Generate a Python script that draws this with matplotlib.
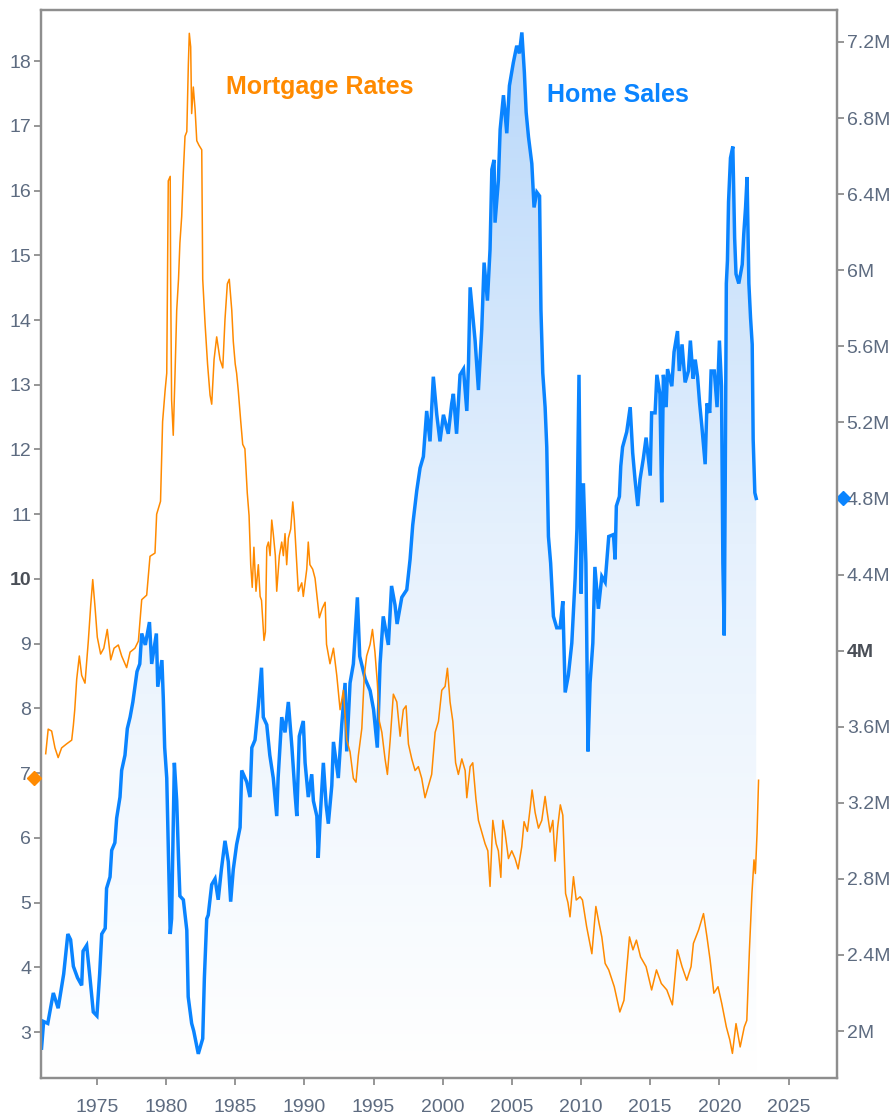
import numpy as np
import matplotlib
matplotlib.use("Agg")
import matplotlib.pyplot as plt
from matplotlib import font_manager as fm
from matplotlib.patches import Polygon
from matplotlib.colors import LinearSegmentedColormap

# ---------------- data ----------------
hs_year = [1971.0, 1971.15, 1971.45, 1971.85, 1972.2, 1972.6, 1972.9, 1973.1, 1973.3, 1973.6, 1973.9,
           1974.0, 1974.26, 1974.5, 1974.74, 1975.0, 1975.2, 1975.35, 1975.6, 1975.7, 1975.95, 1976.07,
           1976.3, 1976.43, 1976.67, 1976.79, 1977.03, 1977.2, 1977.4, 1977.6, 1977.9, 1978.1, 1978.24,
           1978.5, 1978.8, 1978.96, 1979.3, 1979.4, 1979.7, 1979.8, 1979.9, 1980.05, 1980.16, 1980.3,
           1980.4, 1980.6, 1980.77, 1980.9, 1981.0, 1981.25, 1981.5, 1981.6, 1981.85, 1982.0, 1982.33,
           1982.65, 1982.77, 1982.94, 1983.05, 1983.3, 1983.54, 1983.77, 1984.0, 1984.26, 1984.5, 1984.67,
           1984.86, 1985.1, 1985.35, 1985.47, 1985.83, 1986.07, 1986.2, 1986.43, 1986.67, 1986.9, 1987.03,
           1987.28, 1987.5, 1987.75, 1988.0, 1988.1, 1988.36, 1988.6, 1988.84, 1989.1, 1989.32, 1989.45,
           1989.63, 1989.92, 1990.05, 1990.28, 1990.53, 1990.65, 1990.9, 1991.0, 1991.13, 1991.37, 1991.57,
           1991.73, 1991.98, 1992.1, 1992.45, 1992.7, 1992.94, 1993.06, 1993.3, 1993.54, 1993.83, 1994.0,
           1994.4, 1994.75, 1995.0, 1995.27, 1995.47, 1995.7, 1996.07, 1996.3, 1996.55, 1996.7, 1997.04,
           1997.4, 1997.64, 1997.83, 1998.12, 1998.36, 1998.6, 1998.84, 1999.08, 1999.32, 1999.57, 1999.8,
           2000.05, 2000.4, 2000.65, 2000.77, 2001.0, 2001.25, 2001.5, 2001.74, 2001.86, 2001.98, 2002.34,
           2002.58, 2002.82, 2002.99, 2003.23, 2003.42, 2003.55, 2003.71, 2003.78, 2004.02, 2004.15,
           2004.39, 2004.63, 2004.82, 2005.1, 2005.35, 2005.54, 2005.72, 2005.9, 2006.03, 2006.2, 2006.44,
           2006.6, 2006.8, 2007.0, 2007.1, 2007.23, 2007.4, 2007.52, 2007.64, 2007.8, 2008.0, 2008.24,
           2008.48, 2008.68, 2008.85, 2009.08, 2009.33, 2009.57, 2009.7, 2009.85, 2010.0, 2010.17, 2010.35,
           2010.5, 2010.65, 2010.85, 2011.0, 2011.25, 2011.5, 2011.74, 2012.0, 2012.34, 2012.46, 2012.55,
           2012.77, 2012.87, 2013.0, 2013.3, 2013.55, 2013.73, 2013.9, 2014.1, 2014.26, 2014.5, 2014.7,
           2015.0, 2015.1, 2015.35, 2015.48, 2015.7, 2015.83, 2015.95, 2016.15, 2016.25, 2016.56, 2016.72,
           2016.97, 2017.1, 2017.3, 2017.52, 2017.76, 2017.9, 2018.1, 2018.25, 2018.42, 2018.57, 2018.73,
           2018.97, 2019.1, 2019.3, 2019.4, 2019.63, 2019.83, 2020.0, 2020.15, 2020.25, 2020.35, 2020.42,
           2020.5, 2020.58, 2020.66, 2020.8, 2020.97, 2021.1, 2021.2, 2021.4, 2021.65, 2021.76, 2021.89,
           2022.0, 2022.13, 2022.25, 2022.37, 2022.44, 2022.56, 2022.66]
hs_value = [1.91, 2.05, 2.04, 2.20, 2.12, 2.30, 2.51, 2.48, 2.34, 2.28, 2.24,
            2.42, 2.45, 2.28, 2.10, 2.08, 2.30, 2.51, 2.54, 2.75, 2.81, 2.95,
            2.99, 3.12, 3.23, 3.37, 3.45, 3.59, 3.65, 3.73, 3.89, 3.93, 4.09,
            4.03, 4.15, 3.93, 4.09, 3.81, 3.95, 3.75, 3.49, 3.33, 2.97, 2.51,
            2.59, 3.41, 3.21, 2.91, 2.71, 2.69, 2.53, 2.18, 2.04, 2.00, 1.88,
            1.96, 2.28, 2.59, 2.61, 2.77, 2.80, 2.69, 2.85, 3.00, 2.89, 2.68,
            2.85, 2.98, 3.07, 3.37, 3.31, 3.23, 3.49, 3.53, 3.71, 3.91, 3.65,
            3.61, 3.45, 3.33, 3.13, 3.33, 3.65, 3.57, 3.73, 3.49, 3.25, 3.13,
            3.55, 3.63, 3.41, 3.23, 3.35, 3.21, 3.13, 2.91, 3.11, 3.41, 3.19,
            3.09, 3.29, 3.52, 3.33, 3.61, 3.83, 3.47, 3.83, 3.93, 4.28, 3.97,
            3.85, 3.79, 3.69, 3.49, 3.93, 4.18, 4.03, 4.34, 4.24, 4.14, 4.28,
            4.32, 4.48, 4.66, 4.84, 4.96, 5.02, 5.26, 5.10, 5.44, 5.24, 5.10,
            5.24, 5.14, 5.30, 5.35, 5.14, 5.45, 5.48, 5.26, 5.50, 5.91, 5.63,
            5.37, 5.69, 6.04, 5.84, 6.11, 6.53, 6.58, 6.25, 6.47, 6.74,
            6.92, 6.72, 6.97, 7.09, 7.18, 7.14, 7.25, 7.04, 6.83, 6.70, 6.56,
            6.33, 6.41, 6.39, 5.79, 5.46, 5.28, 5.07, 4.60, 4.46, 4.18, 4.12,
            4.12, 4.26, 3.78, 3.87, 4.04, 4.38, 4.64, 5.45, 4.30, 4.88, 4.46,
            3.47, 3.83, 4.04, 4.44, 4.22, 4.39, 4.36, 4.60, 4.61, 4.48, 4.76,
            4.81, 4.97, 5.07, 5.15, 5.28, 5.04, 4.90, 4.76, 4.90, 5.01, 5.12,
            4.92, 5.25, 5.25, 5.45, 5.35, 4.78, 5.45, 5.28, 5.48, 5.39, 5.57,
            5.68, 5.47, 5.61, 5.41, 5.47, 5.63, 5.43, 5.53, 5.44, 5.30, 5.18,
            4.98, 5.30, 5.25, 5.47, 5.47, 5.28, 5.63, 5.39, 4.46, 4.08, 4.88,
            5.93, 6.05, 6.36, 6.59, 6.65, 6.17, 5.98, 5.93, 6.03, 6.19, 6.33,
            6.49, 5.93, 5.75, 5.61, 5.11, 4.83, 4.80]

mr_year = [1971.3, 1971.48, 1971.73, 1971.97, 1972.2, 1972.45, 1972.8, 1973.18, 1973.3, 1973.4, 1973.54,
           1973.73, 1973.9, 1974.14, 1974.38, 1974.55, 1974.7, 1974.86, 1975.03, 1975.27, 1975.5, 1975.75,
           1976.0, 1976.24, 1976.55, 1976.79, 1977.15, 1977.4, 1977.75, 1978.0, 1978.24, 1978.6, 1978.84,
           1979.2, 1979.32, 1979.6, 1979.75, 1979.93, 1980.05, 1980.16, 1980.3, 1980.33, 1980.4, 1980.52,
           1980.65, 1980.77, 1980.9, 1981.0, 1981.13, 1981.25, 1981.37, 1981.5, 1981.61, 1981.68, 1981.78,
           1981.85, 1981.97, 1982.1, 1982.22, 1982.38, 1982.58, 1982.65, 1982.82, 1983.0, 1983.18, 1983.3,
           1983.47, 1983.66, 1983.9, 1984.1, 1984.26, 1984.43, 1984.57, 1984.75, 1984.86, 1985.0, 1985.1,
           1985.22, 1985.4, 1985.54, 1985.7, 1985.87, 1986.0, 1986.12, 1986.23, 1986.35, 1986.5, 1986.67,
           1986.8, 1986.9, 1987.08, 1987.18, 1987.28, 1987.4, 1987.52, 1987.64, 1987.75, 1987.9, 1988.0,
           1988.19, 1988.36, 1988.48, 1988.6, 1988.72, 1988.84, 1989.01, 1989.16, 1989.27, 1989.45, 1989.56,
           1989.81, 1989.92, 1990.17, 1990.28, 1990.4, 1990.6, 1990.77, 1990.94, 1991.08, 1991.3, 1991.5,
           1991.6, 1991.85, 1992.1, 1992.34, 1992.58, 1992.82, 1993.06, 1993.3, 1993.54, 1993.73, 1993.9,
           1994.15, 1994.33, 1994.5, 1994.75, 1994.92, 1995.1, 1995.27, 1995.42, 1995.6, 1995.83, 1996.0,
           1996.2, 1996.43, 1996.68, 1996.92, 1997.15, 1997.35, 1997.52, 1997.76, 1998.0, 1998.24, 1998.48,
           1998.72, 1998.96, 1999.2, 1999.45, 1999.69, 1999.93, 2000.17, 2000.34, 2000.53, 2000.73, 2000.93,
           2001.13, 2001.38, 2001.62, 2001.74, 2001.98, 2002.17, 2002.4, 2002.58, 2002.82, 2003.06, 2003.26,
           2003.42, 2003.62, 2003.86, 2004.02, 2004.2, 2004.34, 2004.5, 2004.75, 2004.99, 2005.23, 2005.45,
           2005.71, 2005.88, 2006.12, 2006.31, 2006.46, 2006.68, 2006.92, 2007.16, 2007.4, 2007.52, 2007.76,
           2007.96, 2008.12, 2008.3, 2008.5, 2008.68, 2008.88, 2009.05, 2009.2, 2009.45, 2009.65, 2009.93,
           2010.1, 2010.4, 2010.78, 2011.07, 2011.3, 2011.5, 2011.74, 2012.0, 2012.4, 2012.8, 2013.1,
           2013.5, 2013.75, 2014.0, 2014.3, 2014.7, 2015.1, 2015.45, 2015.8, 2016.2, 2016.6, 2016.96,
           2017.3, 2017.64, 2017.95, 2018.12, 2018.5, 2018.85, 2019.1, 2019.33, 2019.6, 2019.9, 2020.17,
           2020.5, 2020.75, 2020.94, 2021.2, 2021.5, 2021.8, 2021.98, 2022.17, 2022.35, 2022.5, 2022.6,
           2022.72, 2022.83]
mr_value = [7.30, 7.68, 7.65, 7.39, 7.24, 7.39, 7.45, 7.51, 7.74, 7.98, 8.45,
            8.81, 8.51, 8.39, 9.04, 9.58, 9.99, 9.58, 9.10, 8.84, 8.93, 9.22,
            8.75, 8.93, 8.98, 8.81, 8.63, 8.87, 8.93, 9.04, 9.68, 9.75, 10.35,
            10.40, 11.0, 11.2, 12.43, 12.91, 13.18, 16.15, 16.22, 14.70, 12.77, 12.22,
            13.18, 14.15, 14.63, 15.19, 15.60, 16.29, 16.84, 16.91, 17.94, 18.43, 18.22,
            17.19, 17.60, 17.25, 16.77, 16.70, 16.63, 14.63, 13.94, 13.32, 12.84, 12.70,
            13.39, 13.74, 13.39, 13.26, 14.01, 14.56, 14.63, 14.15, 13.67, 13.32, 13.18,
            12.91, 12.43, 12.08, 12.01, 11.33, 10.98, 10.22, 9.87, 10.49, 9.81, 10.22,
            9.73, 9.67, 9.05, 9.18, 10.49, 10.57, 10.36, 10.91, 10.70, 10.36, 9.81,
            10.36, 10.57, 10.36, 10.70, 10.22, 10.63, 10.77, 11.19, 10.91, 10.22, 9.81,
            9.94, 9.73, 10.15, 10.57, 10.22, 10.15, 10.01, 9.67, 9.40, 9.55, 9.64,
            8.99, 8.69, 8.93, 8.51, 7.98, 8.28, 7.51, 7.33, 6.92, 6.86, 7.27,
            7.69, 8.51, 8.81, 8.99, 9.22, 8.87, 8.40, 7.80, 7.63, 7.22, 6.98,
            7.51, 8.22, 8.10, 7.57, 7.98, 8.04, 7.45, 7.22, 7.04, 7.10, 6.92,
            6.62, 6.80, 6.98, 7.63, 7.80, 8.28, 8.34, 8.62, 8.10, 7.80, 7.16,
            6.98, 7.22, 7.04, 6.62, 7.10, 7.16, 6.60, 6.27, 6.09, 5.91, 5.80,
            5.25, 6.27, 5.91, 5.80, 5.39, 6.27, 6.09, 5.68, 5.80, 5.68, 5.52,
            5.86, 6.25, 6.10, 6.44, 6.74, 6.39, 6.15, 6.27, 6.64, 6.44, 6.09,
            6.27, 5.64, 6.15, 6.51, 6.35, 5.14, 5.00, 4.78, 5.40, 5.04, 5.09,
            5.04, 4.63, 4.21, 4.94, 4.68, 4.47, 4.06, 3.96, 3.70, 3.31, 3.49,
            4.47, 4.27, 4.42, 4.16, 4.01, 3.65, 3.96, 3.75, 3.65, 3.42, 4.27,
            4.01, 3.80, 4.01, 4.37, 4.58, 4.83, 4.47, 4.11, 3.60, 3.70, 3.44,
            3.08, 2.88, 2.67, 3.13, 2.77, 3.08, 3.18, 4.27, 5.14, 5.66, 5.45,
            6.07, 6.89]

rate_ticks = list(range(3, 19))
sales_ticks = [2.0, 2.4, 2.8, 3.2, 3.6, 4.0, 4.4, 4.8, 5.2, 5.6, 6.0, 6.4, 6.8, 7.2]
year_ticks = list(range(1975, 2030, 5))
last_rate = 6.93
last_sales = 4.80

# ---------------- style ----------------
names = {f.name for f in fm.fontManager.ttflist}
FONT = "Liberation Sans" if "Liberation Sans" in names else "DejaVu Sans"
plt.rcParams["font.family"] = [FONT, "DejaVu Sans"]

ORANGE = "#ff8a00"
BLUE = "#0a84ff"
TICKC = "#5d6b80"
SPINE = "#8e8e8e"

fig = plt.figure(figsize=(8.93, 11.2), dpi=100)
ax = fig.add_axes([41 / 893, 1 - 1078 / 1120, 796 / 893, 1068 / 1120])  # sales (right)
ax2 = ax.twinx()  # rates (left)

XMIN, XMAX = 1970.96, 2028.5
S_MIN, S_MAX = 1.753, 7.368
R_MIN, R_MAX = 2.29, 18.79

ax.set_xlim(XMIN, XMAX)
ax.set_ylim(S_MIN, S_MAX)
ax2.set_ylim(R_MIN, R_MAX)

# gradient fill under home sales
hx = np.array(hs_year)
hy = np.array(hs_value)
verts = np.column_stack([np.concatenate([[hx[0]], hx, [hx[-1]]]),
                         np.concatenate([[S_MIN], hy, [S_MIN]])])
poly = Polygon(verts, closed=True, facecolor="none", edgecolor="none", transform=ax.transData)
ax.add_patch(poly)
cmap = LinearSegmentedColormap.from_list("g", ["#ffffff", "#e6f1fd", "#b7d7fa"])
grad = np.linspace(0, 1, 256).reshape(-1, 1)
im = ax.imshow(grad, extent=[XMIN, XMAX, S_MIN, S_MAX], origin="lower", aspect="auto",
               cmap=cmap, zorder=1, interpolation="bicubic")
im.set_clip_path(poly)

ax.plot(hx, hy, color=BLUE, lw=2.5, zorder=3, solid_joinstyle="miter")
ax2.plot(mr_year, mr_value, color=ORANGE, lw=1.1, zorder=3)

# last value markers
ax.plot([1.0075], [last_sales], marker="D", color=BLUE, ms=7, transform=ax.get_yaxis_transform(),
        clip_on=False, zorder=5)
ax2.plot([-0.009], [last_rate], marker="D", color=ORANGE, ms=7, transform=ax2.get_yaxis_transform(),
         clip_on=False, zorder=5)

# axes / ticks
ax.yaxis.tick_right()
ax2.yaxis.tick_left()
ax.set_yticks(sales_ticks)
ax.set_yticklabels([f"{v:g}M" for v in sales_ticks])
ax2.set_yticks(rate_ticks)
ax2.set_yticklabels([str(v) for v in rate_ticks])
ax.set_xticks(year_ticks)
ax.set_xticklabels([str(v) for v in year_ticks])

for a in (ax, ax2):
    a.tick_params(axis="both", colors=SPINE, labelcolor=TICKC, labelsize=14, length=5, width=1.3)
    for s in a.spines.values():
        s.set_color(SPINE)
        s.set_linewidth(1.6)
ax.tick_params(axis="x", pad=10)
ax.tick_params(axis="y", pad=2)
ax2.tick_params(axis="y", pad=2)

for lbl in ax2.get_yticklabels():
    if lbl.get_text() == "10":
        lbl.set_fontweight("bold")
        lbl.set_color("#4a4f57")
for lbl in ax.get_yticklabels():
    if lbl.get_text() == "4M":
        lbl.set_fontweight("bold")
        lbl.set_color("#4a4f57")

ax.text(0.3505, 0.928, "Mortgage Rates", transform=ax.transAxes, color=ORANGE, fontsize=18,
        fontweight="bold", ha="center", va="center", zorder=6)
ax.text(0.725, 0.920, "Home Sales", transform=ax.transAxes, color=BLUE, fontsize=18,
        fontweight="bold", ha="center", va="center", zorder=6)

fig.savefig("out.png", dpi=100)
